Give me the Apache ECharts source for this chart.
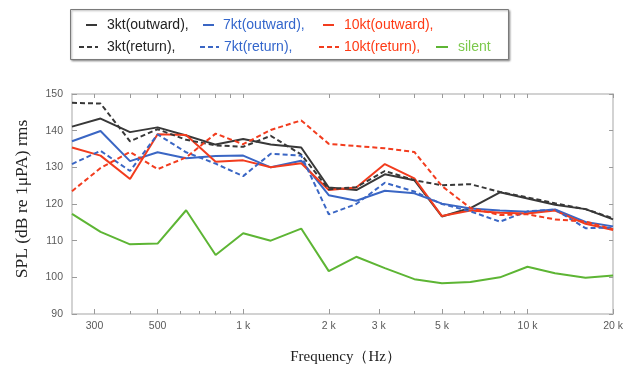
<!DOCTYPE html>
<html>
<head>
<meta charset="utf-8">
<script src="https://cdn.jsdelivr.net/npm/echarts@6/dist/echarts.min.js"></script>
<style>
  html, body { margin: 0; padding: 0; background: #fff; }
  #chart { width: 626px; height: 372px; }
</style>
</head>
<body>
<div id="chart"></div>
<script>
// One-third-octave band centre frequencies (Hz)
const freqs = [250, 315, 400, 500, 630, 800, 1000, 1250, 1600, 2000, 2500, 3150, 4000, 5000, 6300, 8000, 10000, 12500, 16000, 20000];

// Sound pressure level per band, dB re 1 uPa rms
const kt3Outward  = [141.1, 143.3, 139.6, 140.9, 138.7, 136.2, 137.7, 136.2, 135.4, 124.5, 123.8, 128.1, 126.5, 116.6, 118.9, 123.2, 121.5, 119.8, 118.6, 115.8];
const kt7Outward  = [137.1, 139.9, 131.7, 134.1, 132.5, 133.1, 133.2, 130.0, 131.8, 122.4, 120.9, 123.6, 122.9, 120.1, 118.8, 118.2, 117.9, 118.5, 115.1, 113.9];
const kt10Outward = [135.4, 133.2, 126.8, 139.0, 138.8, 131.5, 131.9, 130.0, 131.1, 123.8, 124.5, 130.9, 127.0, 116.7, 118.2, 117.6, 117.4, 118.2, 114.6, 112.9];
const kt3Return   = [147.6, 147.4, 137.1, 140.4, 137.5, 136.0, 135.6, 138.6, 133.5, 124.0, 124.6, 129.0, 126.5, 125.1, 125.4, 123.3, 121.8, 120.2, 118.6, 116.1];
const kt7Return   = [130.9, 134.5, 129.0, 139.0, 134.1, 131.0, 127.6, 133.7, 133.2, 117.2, 120.0, 125.8, 123.4, 120.0, 118.0, 115.2, 118.0, 118.5, 113.4, 113.6];
const kt10Return  = [123.5, 129.8, 134.2, 129.5, 132.7, 139.2, 136.3, 140.2, 142.8, 136.4, 135.8, 135.2, 134.2, 124.9, 118.9, 117.0, 117.2, 115.8, 115.2, 113.1];
const silent      = [117.3, 112.4, 109.0, 109.2, 118.3, 106.1, 112.0, 110.0, 113.3, 101.7, 105.6, 102.5, 99.5, 98.4, 98.7, 100.0, 102.9, 101.1, 99.9, 100.5];

// Frequency axis ticks
const majorTicks = [300, 500, 1000, 2000, 3000, 5000, 10000, 20000];
const majorTickLabels = ['300', '500', '1 k', '2 k', '3 k', '5 k', '10 k', '20 k'];
const minorTicks = [400, 600, 700, 800, 900, 4000, 6000, 7000, 8000, 9000];

const BLACK = '#383838';
const BLUE = '#3a66c4';
const RED = '#f23c1e';
const GREEN = '#5db534';

function pairs(vals) {
  return freqs.map((f, i) => [f, vals[i]]);
}

function freqLabel(v) {
  for (let i = 0; i < majorTicks.length; i++) {
    if (Math.abs(majorTicks[i] - v) / majorTicks[i] < 0.01) return majorTickLabels[i];
  }
  return '';
}

const seriesDefs = [
  { name: '3kt(outward)',  data: kt3Outward,  color: BLACK, dashed: false },
  { name: '7kt(outward)',  data: kt7Outward,  color: BLUE,  dashed: false },
  { name: '10kt(outward)', data: kt10Outward, color: RED,   dashed: false },
  { name: '3kt(return)',   data: kt3Return,   color: BLACK, dashed: true },
  { name: '7kt(return)',   data: kt7Return,   color: BLUE,  dashed: true },
  { name: '10kt(return)',  data: kt10Return,  color: RED,   dashed: true },
  { name: 'silent',        data: silent,      color: GREEN, dashed: false }
];

// Legend entry placement: [left, top, icon width, text gap, text colour, trailing comma]
const legendSpots = {
  '3kt(outward)':  [85, 18, 11, 5, '#222222', true],
  '7kt(outward)':  [202, 18, 11, 4, '#3366cc', true],
  '10kt(outward)': [322, 18, 11, 5, '#ff3a14', true],
  '3kt(return)':   [78, 40, 19, 4, '#222222', true],
  '7kt(return)':   [199, 40, 19, 0, '#3366cc', true],
  '10kt(return)':  [318, 40, 20, 0, '#ff3a14', true],
  'silent':        [435, 40, 12, 5, '#7cc94c', false]
};

const legends = seriesDefs.map(s => {
  const [left, top, w, gap, tc, comma] = legendSpots[s.name];
  return {
    data: [s.name],
    left: left,
    top: top,
    padding: 0,
    itemWidth: w,
    itemHeight: 14,
    itemStyle: { opacity: 0 },
    formatter: name => comma ? name + ',' : name,
    textStyle: {
      color: tc,
      fontSize: 14,
      fontFamily: 'Liberation Sans, Arial, sans-serif',
      padding: [0, 0, 0, gap]
    }
  };
});

const chart = echarts.init(document.getElementById('chart'), null, { renderer: 'canvas' });

const axisLineStyle = { color: '#c4c4c4', width: 1.5 };
const tickStyle = { color: '#9a9a9a', width: 1 };
const labelFont = { color: '#5a5a5a', fontSize: 10.5, fontFamily: 'Liberation Sans, Arial, sans-serif' };

chart.setOption({
  animation: false,
  backgroundColor: '#ffffff',
  grid: { left: 72, right: 12, top: 94, bottom: 58 },
  graphic: [
    {
      type: 'rect',
      shape: { x: 70.5, y: 9.5, width: 438, height: 50 },
      style: {
        fill: '#ffffff',
        stroke: '#7a7a7a',
        lineWidth: 1,
        shadowBlur: 2,
        shadowOffsetX: 1,
        shadowOffsetY: 1,
        shadowColor: 'rgba(0,0,0,0.35)'
      },
      z: -10
    }
  ],
  legend: legends,
  xAxis: [
    {
      type: 'log',
      min: 250,
      max: 20000,
      position: 'bottom',
      axisLine: { show: true, lineStyle: axisLineStyle },
      axisTick: { show: true, inside: true, length: 5, customValues: majorTicks, lineStyle: tickStyle },
      axisLabel: { show: true, customValues: majorTicks, formatter: freqLabel, margin: 7, ...labelFont },
      splitLine: { show: false },
      minorTick: { show: false },
      name: 'Frequency（Hz）',
      nameLocation: 'middle',
      nameGap: 36,
      nameTextStyle: { color: '#222', fontSize: 15, fontFamily: 'Liberation Serif, Times New Roman, serif', padding: [0, 0, 0, 6] }
    },
    {
      type: 'log',
      min: 250,
      max: 20000,
      position: 'bottom',
      axisLine: { show: false },
      axisTick: { show: true, inside: true, length: 3, customValues: minorTicks, lineStyle: tickStyle },
      axisLabel: { show: false },
      splitLine: { show: false }
    },
    {
      type: 'log',
      min: 250,
      max: 20000,
      position: 'top',
      axisLine: { show: true, lineStyle: axisLineStyle },
      axisTick: { show: true, inside: true, length: 4, customValues: majorTicks.concat(minorTicks), lineStyle: tickStyle },
      axisLabel: { show: false },
      splitLine: { show: false }
    }
  ],
  yAxis: [
    {
      type: 'value',
      min: 90,
      max: 150,
      interval: 10,
      position: 'left',
      axisLine: { show: true, lineStyle: axisLineStyle },
      axisTick: { show: true, inside: true, length: 5, lineStyle: tickStyle },
      axisLabel: { show: true, margin: 9, ...labelFont },
      splitLine: { show: false },
      name: 'SPL (dB re 1μPA) rms',
      nameLocation: 'middle',
      nameGap: 41,
      nameTextStyle: { color: '#222', fontSize: 17.5, fontFamily: 'Liberation Serif, Times New Roman, serif', padding: [0, 0, 0, 10] }
    },
    {
      type: 'value',
      min: 90,
      max: 150,
      interval: 10,
      position: 'right',
      axisLine: { show: true, lineStyle: axisLineStyle },
      axisTick: { show: true, inside: true, length: 4, lineStyle: tickStyle },
      axisLabel: { show: false },
      splitLine: { show: false }
    }
  ],
  series: seriesDefs.map(s => ({
    name: s.name,
    type: 'line',
    xAxisIndex: 0,
    yAxisIndex: 0,
    data: pairs(s.data),
    showSymbol: false,
    symbol: 'circle',
    color: s.color,
    lineStyle: { color: s.color, width: 2, type: s.dashed ? [5, 3] : 'solid' },
    itemStyle: { color: s.color },
    emphasis: { disabled: true }
  }))
});
</script>
</body>
</html>
